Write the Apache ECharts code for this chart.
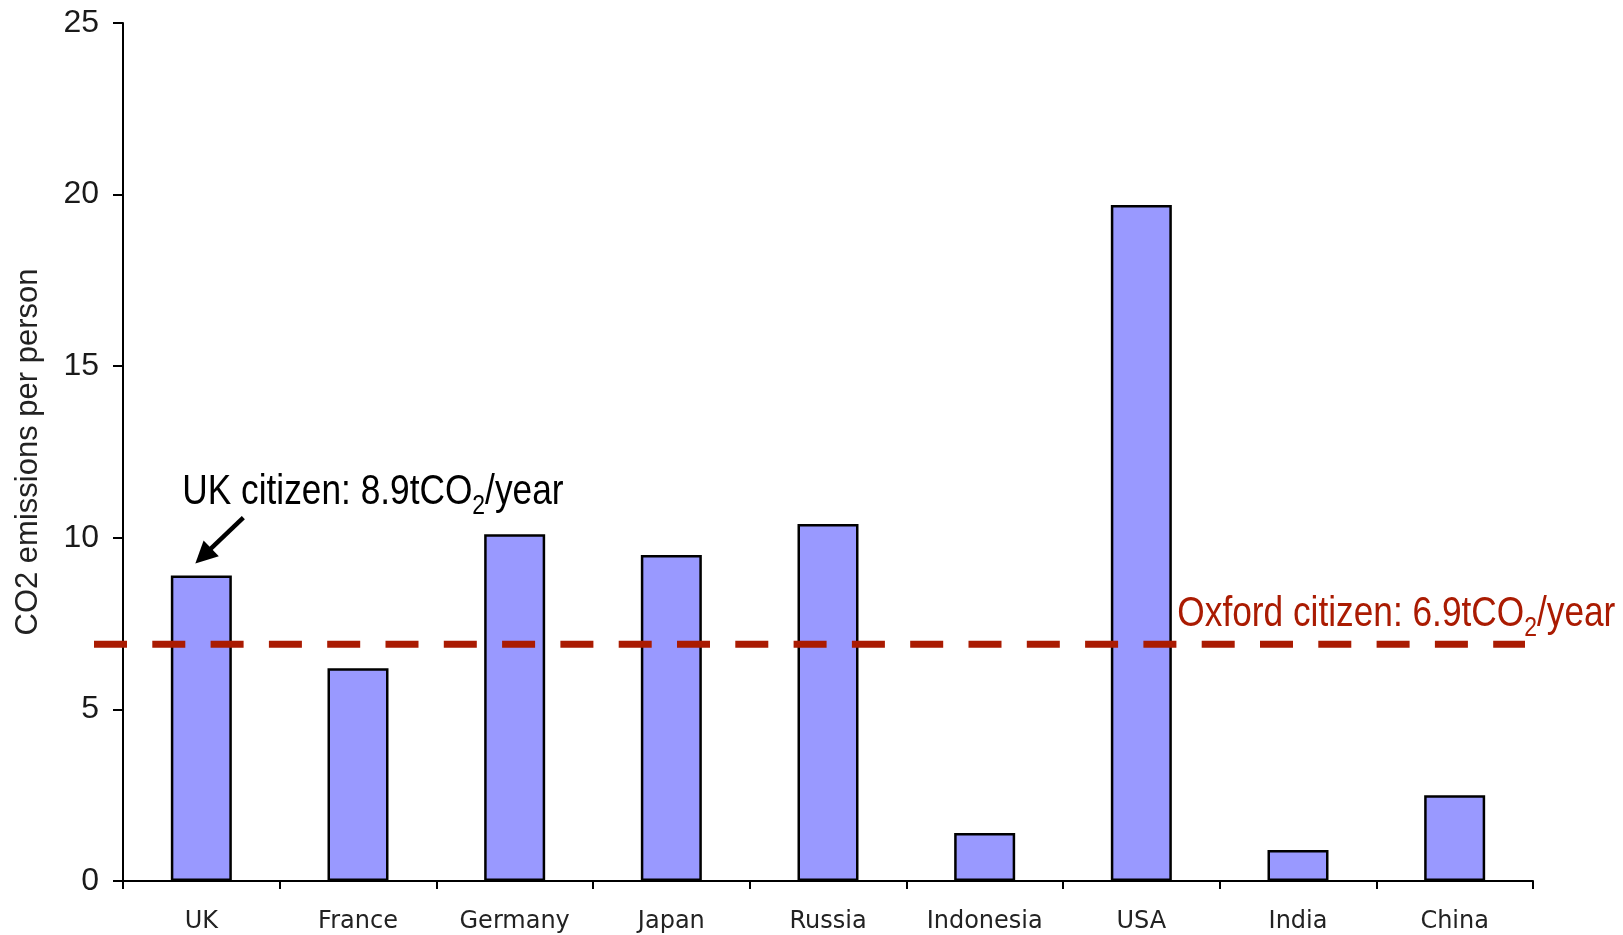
<!DOCTYPE html>
<html>
<head>
<meta charset="utf-8">
<title>CO2 emissions per person</title>
<script src="https://cdn.jsdelivr.net/npm/echarts@6/dist/echarts.min.js"></script>
<style>
  html, body { margin: 0; padding: 0; background: #fff; }
  #chart { width: 1623px; height: 935px; }
</style>
</head>
<body>
<div id="chart"></div>
<script>
// data
const countries = ["UK", "France", "Germany", "Japan", "Russia", "Indonesia", "USA", "India", "China"];
const emissions = [8.9, 6.2, 10.1, 9.5, 10.4, 1.4, 19.7, 0.9, 2.5];
const yMin = 0;
const yMax = 25;
const yStep = 5;
const oxfordValue = 6.9;
const ukNote = ["UK citizen: 8.9tCO", "2", "/year"];
const oxfordNote = ["Oxford citizen: 6.9tCO", "2", "/year"];

const RED = "#AA1B02";
const NOTE_FONT = '"Liberation Sans", Arial, sans-serif';
const NARROW = 0.82; // no narrow font installed, squeeze the regular one

const chart = echarts.init(document.getElementById("chart"));

const option = {
  animation: false,
  grid: { left: 123, right: 90, top: 23, bottom: 54, containLabel: false, outerBoundsMode: "none" },
  xAxis: {
    type: "category",
    data: countries,
    boundaryGap: true,
    axisLine: { lineStyle: { color: "#000", width: 2 } },
    axisTick: { show: true, interval: 0, length: 8, lineStyle: { color: "#000", width: 2 } },
    axisLabel: {
      interval: 0,
      margin: 29,
      fontSize: 24,
      fontFamily: "DejaVu Sans",
      color: "#222"
    },
    splitLine: { show: false }
  },
  yAxis: {
    type: "value",
    min: yMin,
    max: yMax,
    interval: yStep,
    name: "CO2 emissions per person",
    nameLocation: "middle",
    nameRotate: 90,
    nameGap: 79,
    nameTextStyle: { fontSize: 31, fontFamily: "Liberation Sans", color: "#222" },
    axisLine: { show: true, lineStyle: { color: "#000", width: 2 } },
    axisTick: { show: true, length: 10, lineStyle: { color: "#000", width: 2 } },
    axisLabel: { margin: 24, fontSize: 32, fontFamily: "Liberation Sans", color: "#1a1a1a" },
    splitLine: { show: false }
  },
  series: [
    {
      type: "bar",
      data: emissions,
      barWidth: 61,
      itemStyle: { color: "#9999FF", borderColor: "#000", borderWidth: 2.5 }
    }
  ]
};
chart.setOption(option);

// measure text so the subscript pieces line up
const measureCtx = document.createElement("canvas").getContext("2d");
function textWidth(str, size) {
  measureCtx.font = size + "px " + NOTE_FONT;
  return measureCtx.measureText(str).width * NARROW;
}

// x is left edge, baseline is the alphabetic baseline of the main text
function noteText(x, baseline, parts, color) {
  const big = 43, small = 28;
  const items = [];
  let cx = x;
  parts.forEach((p, i) => {
    const isSub = i === 1;
    const size = isSub ? small : big;
    const base = isSub ? baseline + 9 : baseline;
    items.push({
      type: "text",
      x: cx,
      y: base - 0.31 * size,
      scaleX: NARROW,
      z: 110,
      style: {
        text: p,
        fontSize: size,
        fontFamily: NOTE_FONT,
        fill: color,
        textAlign: "left",
        textVerticalAlign: "middle",
        align: "left",
        verticalAlign: "middle"
      }
    });
    cx += textWidth(p, size);
  });
  return items;
}

function drawNotes() {
  const ukTop = chart.convertToPixel({ seriesIndex: 0 }, [countries[0], emissions[0]]);
  const usa = chart.convertToPixel({ seriesIndex: 0 }, ["USA", oxfordValue]);
  const lineY = usa[1];
  const left = option.grid.left;
  const right = chart.getWidth() - option.grid.right;

  // arrow to the UK bar
  const tip = [ukTop[0] - 6, ukTop[1] - 12];
  const tail = [ukTop[0] + 42, ukTop[1] - 58];
  const dx = tip[0] - tail[0], dy = tip[1] - tail[1];
  const len = Math.sqrt(dx * dx + dy * dy);
  const ux = dx / len, uy = dy / len;
  const headLen = 22, headHalf = 11;
  const hb = [tip[0] - ux * headLen, tip[1] - uy * headLen];

  const graphics = [
    {
      type: "line",
      z: 100,
      shape: { x1: left - 29, y1: lineY, x2: right - 8, y2: lineY },
      style: { stroke: RED, lineWidth: 7, lineDash: [33, 25.3] }
    },
    {
      type: "line",
      z: 100,
      shape: { x1: tail[0], y1: tail[1], x2: hb[0] + ux * 2, y2: hb[1] + uy * 2 },
      style: { stroke: "#000", lineWidth: 4.5 }
    },
    {
      type: "polygon",
      z: 100,
      shape: {
        points: [
          tip,
          [hb[0] - uy * headHalf, hb[1] + ux * headHalf],
          [hb[0] + uy * headHalf, hb[1] - ux * headHalf]
        ]
      },
      style: { fill: "#000" }
    }
  ]
    .concat(noteText(ukTop[0] - 19, ukTop[1] - 70, ukNote, "#000"))
    .concat(noteText(usa[0] + 36, lineY - 16.5, oxfordNote, RED));

  chart.setOption({ graphic: graphics });
}
drawNotes();
</script>
</body>
</html>
